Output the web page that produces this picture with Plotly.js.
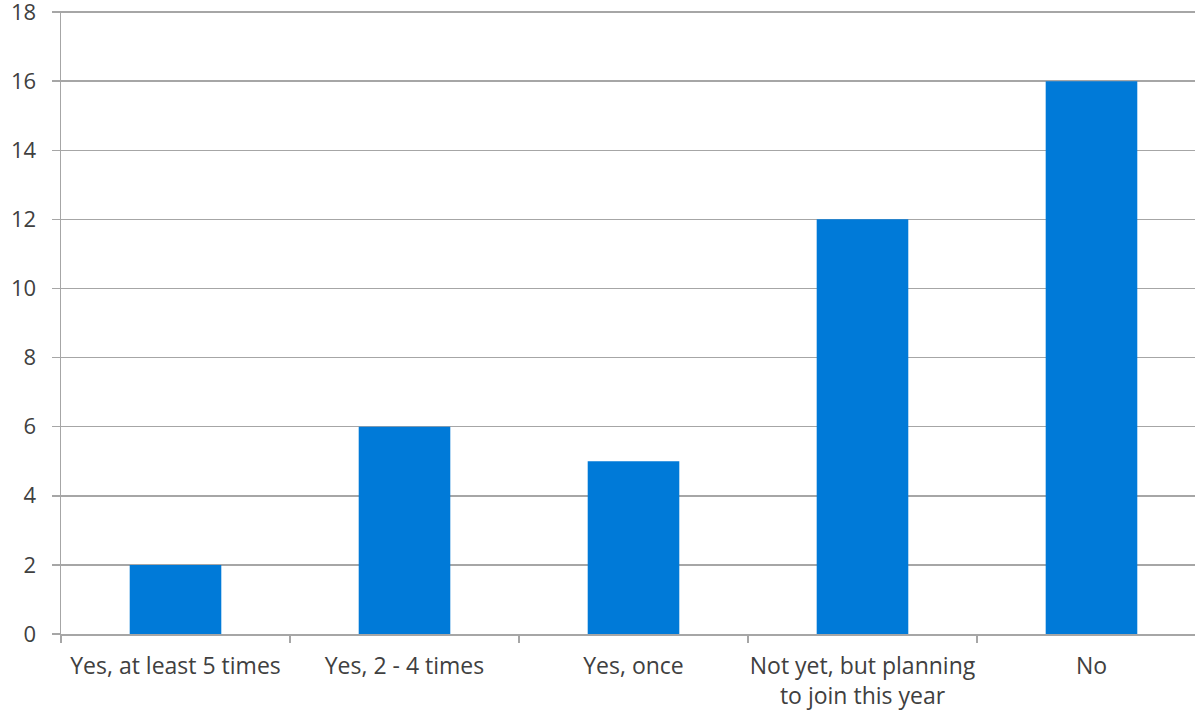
<!DOCTYPE html>
<html>
<head>
<meta charset="utf-8">
<script src="https://cdn.plot.ly/plotly-3.0.1.min.js"></script>
<style>html,body{margin:0;padding:0;background:#fff;}#chart{width:1195px;height:715px;}</style>
</head>
<body>
<div id="chart"></div>
<script>
const categories = ["Yes, at least 5 times", "Yes, 2 - 4 times", "Yes, once", "Not yet, but planning<br>to join this year", "No"];
const values = [2, 6, 5, 12, 16];
const yTicks = [0, 2, 4, 6, 8, 10, 12, 14, 16, 18];

const trace = {
  type: "bar",
  x: categories,
  y: values,
  marker: {color: "#007AD8"},
  hoverinfo: "x+y"
};

const layout = {
  width: 1195,
  height: 715,
  margin: {l: 61, r: 0, t: 11, b: 81},
  paper_bgcolor: "#ffffff",
  plot_bgcolor: "#ffffff",
  bargap: 0.6,
  showlegend: false,
  font: {family: "Open Sans, sans-serif", size: 23, color: "#404040"},
  xaxis: {
    type: "category",
    range: [-0.5, 4.452],
    showgrid: false,
    showline: true,
    linecolor: "#a6a6a6",
    linewidth: 1.5,
    ticks: "outside",
    tickson: "boundaries",
    ticklen: 7,
    tickcolor: "#a6a6a6",
    tickwidth: 1.5,
    tickangle: 0,
    ticklabelstandoff: 11,
    ticklabeloverflow: "allow",
    tickfont: {size: 23, color: "#404040"},
    fixedrange: true
  },
  yaxis: {
    range: [0, 18.03],
    tickvals: yTicks,
    ticktext: yTicks.map(String),
    showgrid: true,
    gridcolor: "#a6a6a6",
    gridwidth: 1.5,
    zeroline: false,
    showline: true,
    linecolor: "#a6a6a6",
    linewidth: 1.5,
    ticks: "outside",
    ticklen: 8,
    tickcolor: "#a6a6a6",
    tickwidth: 1.5,
    ticklabelstandoff: 11,
    ticklabeloverflow: "allow",
    tickfont: {size: 22, color: "#404040"},
    fixedrange: true
  }
};

Plotly.newPlot("chart", [trace], layout, {displayModeBar: false, staticPlot: true});
</script>
</body>
</html>
